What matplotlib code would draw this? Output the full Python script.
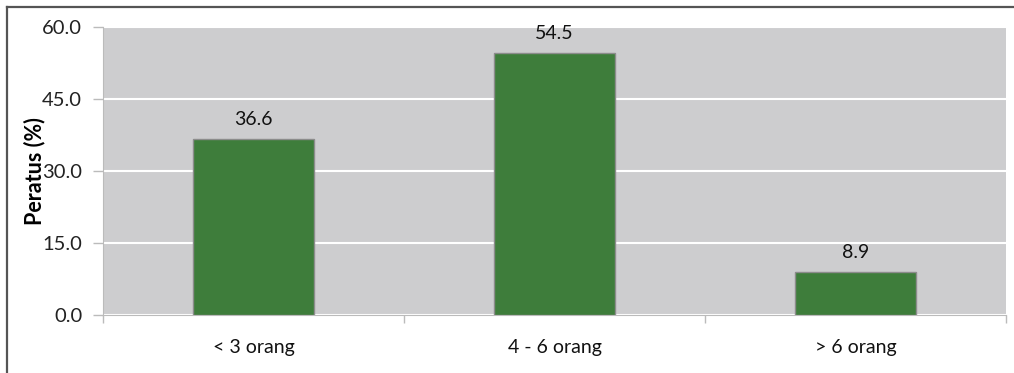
import matplotlib
matplotlib.use("Agg")
import matplotlib.pyplot as plt
from matplotlib.lines import Line2D

categories = ["< 3 orang", "4 - 6 orang", "> 6 orang"]
values = [36.6, 54.5, 8.9]
yticks = [0.0, 15.0, 30.0, 45.0, 60.0]

plt.rcParams["font.family"] = ["Lato", "DejaVu Sans"]

fig = plt.figure(figsize=(10.14, 3.73), dpi=100)
ax = fig.add_axes([103 / 1014, 1 - 315 / 373, (1006 - 103) / 1014, (315 - 27) / 373])
ax.set_facecolor("#CDCDCF")

x = list(range(len(categories)))
bars = ax.bar(x, values, width=0.4, color="#3E7D3B", edgecolor="#8C8C8C",
              linewidth=1.0, zorder=3)

for xi, v in zip(x, values):
    ax.annotate(f"{v:.1f}", (xi, v), xytext=(0, 8), textcoords="offset points",
                ha="center", va="bottom", fontsize=14, color="#111111")

ax.set_xlim(-0.5, len(categories) - 0.5)
ax.set_ylim(0, 60)
ax.set_yticks(yticks)
ax.set_yticklabels([f"{t:.1f}" for t in yticks], fontsize=14.5, color="#222222")
ax.yaxis.grid(True, color="white", linewidth=1.5, zorder=1)
ax.set_axisbelow(True)

ax.set_xticks(x)
ax.set_xticklabels(categories, fontsize=14, color="#111111")
ax.tick_params(axis="x", length=0, pad=17)
ax.set_xticks([-0.5, 0.5, 1.5, 2.5], minor=True)
ax.tick_params(axis="x", which="minor", length=6, color="#BBBBBB", width=1)
ax.tick_params(axis="y", length=7, color="#BBBBBB", width=1, pad=8)

for side in ["top", "right"]:
    ax.spines[side].set_visible(False)
ax.spines["left"].set_color("#BBBBBB")
ax.spines["bottom"].set_color("#BBBBBB")

ax.set_ylabel("Peratus (%)", fontsize=15.5, fontweight="bold", labelpad=-2)

# frame around the chart
fig.add_artist(Line2D([7 / 1014, 7 / 1014], [0, 1 - 7 / 373], color="#555555", lw=1.6))
fig.add_artist(Line2D([7 / 1014, 1], [1 - 7 / 373, 1 - 7 / 373], color="#555555", lw=1.6))

fig.savefig("out.png", dpi=100)
